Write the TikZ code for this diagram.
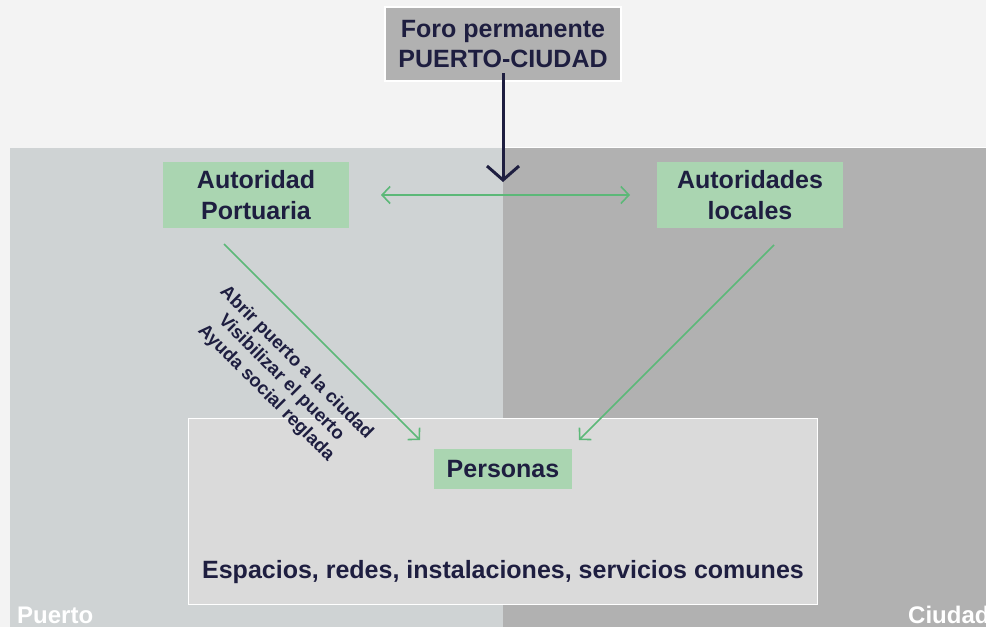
\documentclass[tikz,border=0pt]{standalone}
\usepackage{fontspec}
\setmainfont{Liberation Sans}
\usetikzlibrary{arrows.meta}
\definecolor{bgc}{HTML}{F3F3F3}
\definecolor{leftc}{HTML}{CFD3D4}
\definecolor{rightc}{HTML}{B1B1B1}
\definecolor{navy}{HTML}{1E1E40}
\definecolor{greenfill}{HTML}{AAD5B1}
\definecolor{greenline}{HTML}{5CB878}
\definecolor{innerc}{HTML}{DADADA}
\tikzset{
  txt/.style={font=\bfseries\fontsize{25}{30.5}\selectfont, text=navy, align=center},
  greenbox/.style={txt, fill=greenfill, inner sep=0pt},
  garrow/.style={draw=greenline, line width=1.6pt, -{Straight Barb[length=8pt,width=17pt]}},
  region/.style={font=\bfseries\fontsize{24}{28}\selectfont, text=white, anchor=base west, inner sep=0pt},
}
\begin{document}
\begin{tikzpicture}[x=1pt,y=-1pt]
\useasboundingbox (0,0) rectangle (986,627);
\fill[bgc] (0,0) rectangle (986,627);
\fill[leftc] (10,148) rectangle (503,627);
\fill[rightc] (503,148) rectangle (986,627);
\draw[white, line width=1.5pt] (503,147.5) -- (986,147.5);
% outer box
\node[draw=white, line width=1pt, fill=innerc, minimum width=629pt, minimum height=186pt, inner sep=0pt] (area) at (502.5,511) {};
\node[txt, anchor=base] (esp) at (503,578) {Espacios, redes, instalaciones, servicios comunes};
% top box
\node[txt, draw=white, line width=2pt, fill=rightc, minimum width=236pt, minimum height=74pt, inner sep=0pt] (foro) at (503,44) {Foro permanente\\PUERTO-CIUDAD};
\node[greenbox, minimum width=186pt, minimum height=66pt] (ap) at (256,195) {Autoridad\\Portuaria};
\node[greenbox, minimum width=186pt, minimum height=66pt] (al) at (750,195) {Autoridades\\locales};
\node[greenbox, minimum width=138pt, minimum height=40pt] (pers) at (503,469) {Personas};
% connectors
\coordinate (fe) at (503,182);
\draw[navy, line width=3pt, -{Straight Barb[length=14pt,width=32pt]}] ([yshift=9pt]foro.south) -- (fe);
\coordinate (l1) at (381,195);
\coordinate (r1) at (630,195);
\draw[garrow, {Straight Barb[length=8pt,width=17pt]}-{Straight Barb[length=8pt,width=17pt]}] (l1) -- (r1);
\coordinate (a1) at (224,244);
\coordinate (a2) at (420,440);
\draw[garrow] (a1) -- (a2);
\coordinate (b1) at (774,245);
\coordinate (b2) at (579,440);
\draw[garrow] (b1) -- (b2);
% rotated labels
\node[rotate=-45, font=\bfseries\fontsize{18.5}{21.5}\selectfont, text=navy, align=center, inner sep=0pt] (lab) at (281,378) {Abrir puerto a la ciudad\\Visibilizar el puerto\\Ayuda social reglada};
% region labels
\node[region] (pu) at (17,623) {Puerto};
\node[region] (ci) at (908,623) {Ciudad};
\end{tikzpicture}
\end{document}
